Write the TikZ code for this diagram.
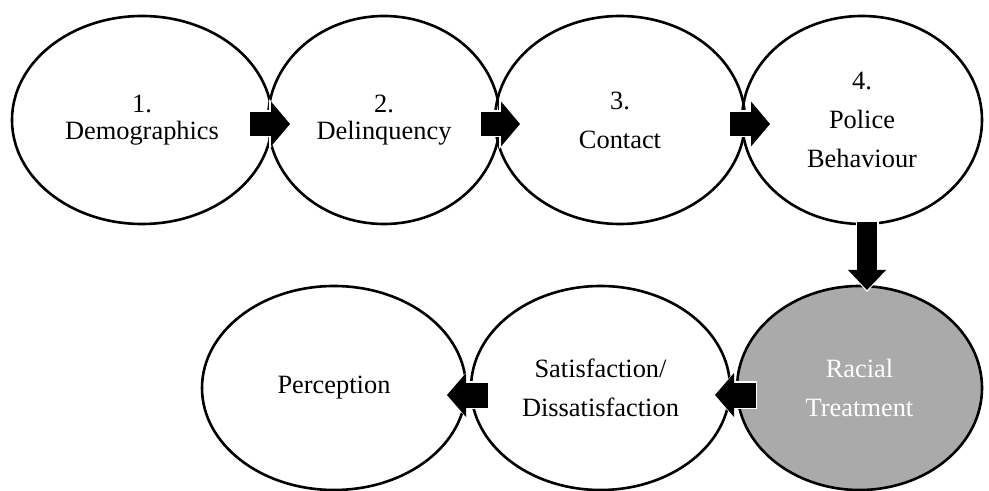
\documentclass[tikz,border=0pt]{standalone}
\usepackage{fontspec}
\setmainfont{Liberation Serif}
\usetikzlibrary{arrows.meta,calc,shapes.geometric}

\definecolor{racialgray}{RGB}{170,170,170}

\begin{document}
\begin{tikzpicture}[x=0.5pt,y=-0.5pt,
  stage/.style={ellipse, draw=black, line width=1.3pt, inner sep=0pt,
    outer sep=0pt, align=center,
    font=\fontsize{13.2pt}{19.5pt}\selectfont},
  tightlines/.style={font=\fontsize{13.2pt}{13.5pt}\selectfont},
  shaded/.style={fill=racialgray, text=white},
  toprow/.style={minimum height=104pt},
  bottomrow/.style={minimum height=102pt},
  % block arrow: shaft width, head width, head length, then the same for the white rim
  flow/.style n args={6}{draw=black, line width=#1,
    -{Triangle[length=#3, width=#2, line width=0pt]},
    shorten <=0.75pt, shorten >=1pt,
    preaction={draw=white, line width=#4,
      -{Triangle[length=#6, width=#5, line width=0pt]},
      shorten <=0pt, shorten >=0pt}},
  rightflow/.style={flow={12pt}{22.5pt}{9.5pt}{13.5pt}{25pt}{11.5pt}},
  downflow/.style={flow={10pt}{19pt}{10pt}{11.5pt}{21.5pt}{12pt}},
  leftflow/.style={flow={12.5pt}{22pt}{9.5pt}{14pt}{24.5pt}{11.5pt}}
]
\fill[white] (0,0) rectangle (989,491);
\useasboundingbox (0,0) rectangle (989,491);

% top row
\node[stage, toprow, tightlines, minimum width=130pt] (demo) at (142,120) {1.\\Demographics};
\node[stage, toprow, tightlines, minimum width=116pt] (delinq) at (384,120) {2.\\Delinquency};
\node[stage, toprow, minimum width=125pt] (contact) at (620,120) {3.\\Contact};
\node[stage, toprow, minimum width=120pt] (police) at (862,120) {4.\\Police\\Behaviour};

% bottom row
\node[stage, bottomrow, shaded, minimum width=122.5pt] (racial) at (859.5,388) {Racial\\Treatment};
\node[stage, bottomrow, minimum width=129.5pt] (satis) at (600.5,388) {Satisfaction/\\Dissatisfaction};
\node[stage, bottomrow, minimum width=132pt] (perc) at (334,388) {Perception};

% connectors
\draw[rightflow] ($(demo.east)+(-24,4)$) -- ($(delinq.west)+(24,4)$);
\draw[rightflow] ($(delinq.east)+(-21,4)$) -- ($(contact.west)+(27,4)$);
\draw[rightflow] ($(contact.east)+(-17,4)$) -- ($(police.west)+(30,4)$);
\draw[downflow] ($(police.south)+(5,-3)$) -- ($(racial.north)+(7.5,6)$);
\draw[leftflow] ($(racial.west)+(20,7)$) -- ($(satis.east)+(-17,7)$);
\draw[leftflow] ($(satis.west)+(18,7)$) -- ($(perc.east)+(-21,7)$);
\end{tikzpicture}
\end{document}
